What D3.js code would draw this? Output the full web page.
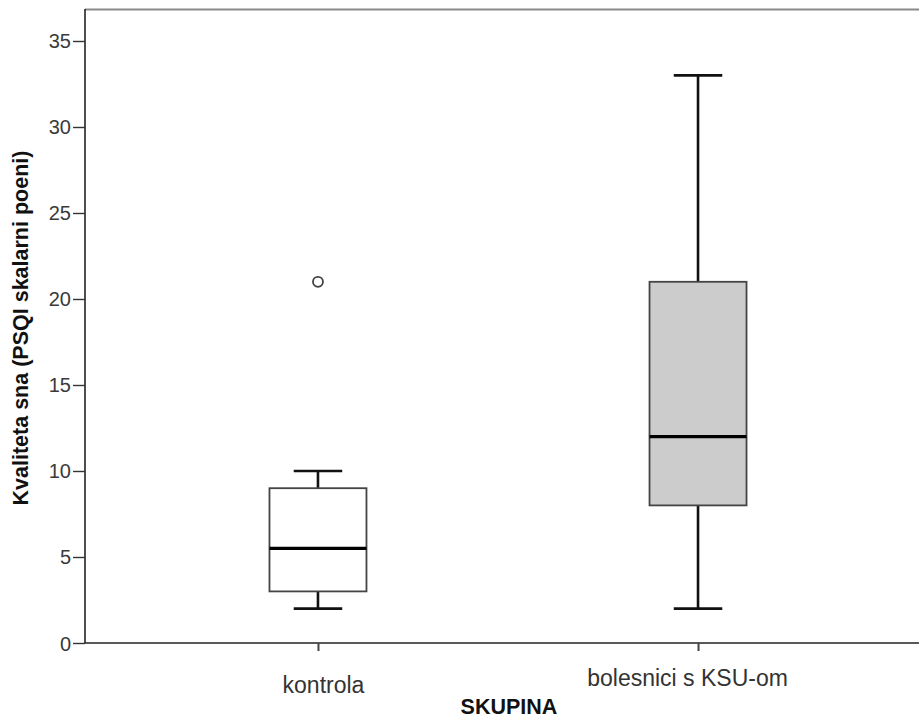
<!DOCTYPE html>
<html><head><meta charset="utf-8">
<script src="https://cdn.jsdelivr.net/npm/d3@7"></script>
<style>body{margin:0;background:#fff}svg{display:block}</style>
</head><body>
<svg id="c" width="919" height="722"></svg>
<script>
const categories = ["kontrola", "bolesnici s KSU-om"];
const whiskerLow  = [2, 2];
const q1          = [3, 8];
const median      = [5.5, 12];
const q3          = [9, 21];
const whiskerHigh = [10, 33];
const outliers    = [[21], []];
const boxFill     = ["#ffffff", "#cccccc"];
const yTicks = [0, 5, 10, 15, 20, 25, 30, 35];
const yLabel = "Kvaliteta sna (PSQI skalarni poeni)";
const xLabel = "SKUPINA";

const svg = d3.select("#c");
const L = 85, R = 931, T = 9, B = 643;
const y = d3.scaleLinear().domain([0, 36.86]).range([B, T]);
const x = d3.scalePoint().domain(categories).range([L, R]).padding(0.613);
const bw = 97;

// top border
svg.append("line").attr("x1", L).attr("x2", 919).attr("y1", T + 0.5).attr("y2", T + 0.5)
  .attr("stroke", "#8a8a8a").attr("stroke-width", 2);

// y axis
const ya = svg.append("g").attr("transform", `translate(${L},0)`)
  .call(d3.axisLeft(y).tickValues(yTicks).tickSize(12).tickPadding(2).tickFormat(d3.format("d")));
ya.select(".domain").attr("d", `M0,${T}V${B}`).attr("stroke", "#222").attr("stroke-width", 1.6);
ya.selectAll(".tick line").attr("stroke", "#333").attr("stroke-width", 1.4);
ya.selectAll(".tick text").attr("font-family", "Liberation Sans, Arial, sans-serif")
  .attr("font-size", 20).attr("fill", "#3a3a3a").attr("dy", "0.35em");

// x axis
const xa = svg.append("g").attr("transform", `translate(0,${B})`)
  .call(d3.axisBottom(x).tickSize(8).tickPadding(0));
xa.select(".domain").attr("d", `M${L},0H${R}`).attr("stroke", "#222").attr("stroke-width", 1.6);
xa.selectAll(".tick line").attr("stroke", "#444").attr("stroke-width", 2);
xa.selectAll(".tick text").attr("font-family", "Liberation Sans, Arial, sans-serif")
  .attr("font-size", 23).attr("fill", "#333").attr("dy", 0)
  .attr("y", (d, i) => i === 0 ? 50 : 43)
  .attr("dx", (d, i) => i === 0 ? 5 : -11);

// boxes
const g = svg.append("g");
categories.forEach((c, i) => {
  const cx = x(c);
  g.append("line").attr("x1", cx).attr("x2", cx).attr("y1", y(q3[i])).attr("y2", y(whiskerHigh[i]))
    .attr("stroke", "#111").attr("stroke-width", 2.6);
  g.append("line").attr("x1", cx).attr("x2", cx).attr("y1", y(q1[i])).attr("y2", y(whiskerLow[i]))
    .attr("stroke", "#111").attr("stroke-width", 2.6);
  [whiskerHigh[i], whiskerLow[i]].forEach(v => {
    g.append("line").attr("x1", cx - bw / 4).attr("x2", cx + bw / 4).attr("y1", y(v)).attr("y2", y(v))
      .attr("stroke", "#111").attr("stroke-width", 2.6);
  });
  g.append("rect").attr("x", cx - bw / 2).attr("width", bw)
    .attr("y", y(q3[i])).attr("height", y(q1[i]) - y(q3[i]))
    .attr("fill", boxFill[i]).attr("stroke", "#444").attr("stroke-width", 1.8);
  g.append("line").attr("x1", cx - bw / 2).attr("x2", cx + bw / 2).attr("y1", y(median[i])).attr("y2", y(median[i]))
    .attr("stroke", "#000").attr("stroke-width", 3.2);
  outliers[i].forEach(v => {
    g.append("circle").attr("cx", cx).attr("cy", y(v)).attr("r", 5)
      .attr("fill", "#fff").attr("stroke", "#444").attr("stroke-width", 1.8);
  });
});

// axis titles
svg.append("text").attr("transform", `translate(28,${(T + B) / 2 + 2}) rotate(-90)`)
  .attr("text-anchor", "middle").attr("font-family", "Liberation Sans, Arial, sans-serif")
  .attr("font-weight", "bold").attr("font-size", 21.5).attr("fill", "#111").text(yLabel);
svg.append("text").attr("x", 509).attr("y", 714)
  .attr("text-anchor", "middle").attr("font-family", "Liberation Sans, Arial, sans-serif")
  .attr("font-weight", "bold").attr("font-size", 21.5).attr("fill", "#111").text(xLabel);
</script>
</body></html>
